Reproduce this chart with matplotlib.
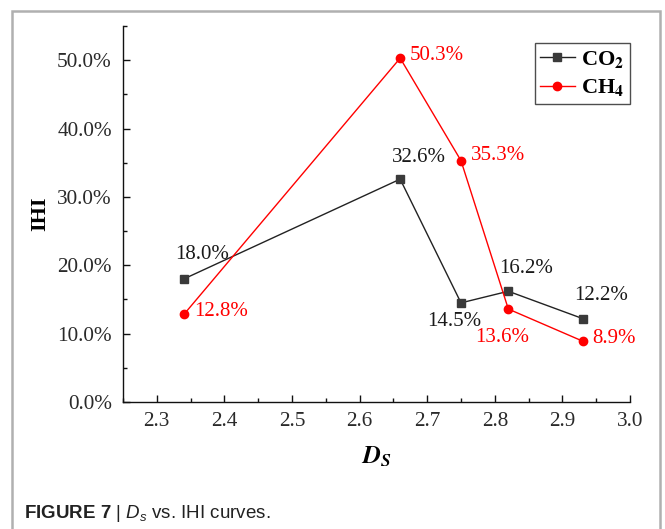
import matplotlib
matplotlib.use('Agg')
import matplotlib.pyplot as plt
from matplotlib.patches import Rectangle
from matplotlib.ticker import MultipleLocator, FormatStrFormatter

# data (IHI in %)
ds = [2.34, 2.66, 2.75, 2.82, 2.93]
ihi_co2 = [18.0, 32.6, 14.5, 16.2, 12.2]
ihi_ch4 = [12.8, 50.3, 35.3, 13.6, 8.9]

# label offsets in pixels (dx, dy) and horizontal alignment
co2_offsets = [(18, 24), (19, 22), (-7, -19), (18, 23), (18, 23)]
ch4_offsets = [(10, 3), (10, 3), (10, 5), (-6, -28), (10, 3)]
ch4_ha = ['left', 'left', 'left', 'center', 'left']

plt.rcParams['font.family'] = ['Liberation Serif', 'DejaVu Serif']
plt.rcParams['mathtext.fontset'] = 'stix'
plt.rcParams['mathtext.rm'] = 'Liberation Sans'
plt.rcParams['mathtext.it'] = 'Liberation Sans:italic'
plt.rcParams['mathtext.bf'] = 'Liberation Sans:bold'

fig = plt.figure(figsize=(6.65, 5.29), dpi=100)
ax = fig.add_axes([123 / 665, 1 - 402 / 529, (630 - 123) / 665, (402 - 26) / 529])

black = '#222222'
red = '#ff0000'

ax.plot(ds, ihi_co2, color=black, lw=1, marker='s', ms=5.5,
        mfc='#3a3a3a', mec='#3a3a3a', label=r'CO$_\mathbf{2}$')
ax.plot(ds, ihi_ch4, color=red, lw=1, marker='o', ms=6,
        mfc=red, mec=red, label=r'CH$_\mathbf{4}$')

for x, y, off in zip(ds, ihi_co2, co2_offsets):
    ax.annotate('%.1f%%' % y, (x, y), xytext=off, textcoords='offset pixels',
                ha='center', va='center', fontsize=15, color='#1a1a1a')
for x, y, off, ha in zip(ds, ihi_ch4, ch4_offsets, ch4_ha):
    ax.annotate('%.1f%%' % y, (x, y), xytext=off, textcoords='offset pixels',
                ha=ha, va='center', fontsize=15, color=red)

ax.set_xlim(2.25, 3.0)
ax.set_ylim(0, 55)
ax.xaxis.set_major_locator(MultipleLocator(0.1))
ax.xaxis.set_minor_locator(MultipleLocator(0.05))
ax.xaxis.set_major_formatter(FormatStrFormatter('%.1f'))
ax.yaxis.set_major_locator(MultipleLocator(10))
ax.yaxis.set_minor_locator(MultipleLocator(5))
ax.yaxis.set_major_formatter(FormatStrFormatter('%.1f%%'))

ax.spines['top'].set_visible(False)
ax.spines['right'].set_visible(False)
for s in ['left', 'bottom']:
    ax.spines[s].set_linewidth(1)
    ax.spines[s].set_color('#111111')

ax.tick_params(which='both', direction='in', colors='#111111', labelcolor='#2a2a2a')
ax.tick_params(which='major', length=5, width=1, labelsize=15.3)
ax.tick_params(which='minor', length=3, width=1)
ax.tick_params(axis='x', pad=7)
ax.tick_params(axis='y', pad=8)

ax.set_xlabel(r'$\mathbfit{D}_{\mathbfit{S}}$', fontsize=18, labelpad=10)
ax.set_ylabel('IHI', fontsize=16, fontweight='bold', labelpad=5)

leg = ax.legend(loc='upper right', bbox_to_anchor=(630 / 665, 1 - 43 / 529),
                bbox_transform=fig.transFigure, borderaxespad=0,
                prop={'family': 'Liberation Serif', 'weight': 'bold', 'size': 16},
                frameon=True, fancybox=False, edgecolor='#222222',
                handlelength=1.55, handletextpad=0.3, labelspacing=0.35,
                borderpad=0.25)
leg.get_frame().set_linewidth(1)

# light gray frame round the figure panel
fig.patches.append(Rectangle((12 / 665, -0.05), (660 - 12) / 665, 1 - 11 / 529 + 0.05,
                             transform=fig.transFigure, fill=False,
                             edgecolor='#b0b0b0', lw=1.8))

fig.text(24 / 665, 1 - 513 / 529, r'$\mathbf{FIGURE\ 7}$ | $\mathit{D}_{\mathit{s}}$ vs. IHI curves.',
         fontsize=13.5, family='Liberation Sans', math_fontfamily='custom',
         va='center', ha='left', color='#222222')

fig.savefig('out.png', dpi=100)
